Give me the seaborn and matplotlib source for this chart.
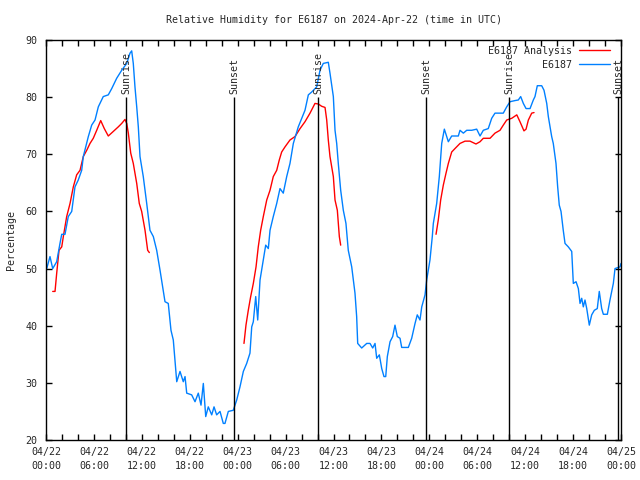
import pandas as pd
import numpy as np
import matplotlib
matplotlib.use('Agg')
import matplotlib.pyplot as plt
import matplotlib.dates as mdates
import seaborn as sns

# ----------------------------------------------------------------------------
# data (hours since 2024-04-22 00:00 UTC, relative humidity %)
# ----------------------------------------------------------------------------
START = pd.Timestamp('2024-04-22 00:00')

obs_hours = [0.09, 0.50, 0.84, 1.34, 1.75, 1.97, 2.38, 2.79, 3.22, 3.63, 4.04, 4.47, 4.67,
             5.30, 5.72, 6.14, 6.55, 7.17, 7.80, 8.23, 8.85, 9.48, 10.11, 10.52, 10.73,
             10.93, 11.14, 11.36, 11.56, 11.77, 12.18, 12.61, 13.02, 13.44, 13.86, 14.28,
             14.90, 15.31, 15.65, 15.94, 16.15, 16.37, 16.78, 17.19, 17.41, 17.62, 18.24,
             18.66, 19.07, 19.41, 19.70, 20.00, 20.32, 20.75, 21.04, 21.37, 21.79, 22.20,
             22.41, 22.83, 23.45, 23.88, 24.29, 24.71, 25.13, 25.54, 25.76, 25.96, 26.26,
             26.51, 26.80, 27.21, 27.51, 27.84, 28.05, 28.46, 28.89, 29.30, 29.71, 30.14,
             30.55, 30.97, 31.59, 32.02, 32.43, 32.85, 33.27, 33.90, 34.31, 34.72, 35.35,
             35.56, 35.98, 36.19, 36.40, 36.60, 36.90, 37.23, 37.56, 37.85, 38.28, 38.48,
             38.69, 38.90, 39.03, 39.53, 40.16, 40.57, 40.91, 41.20, 41.41, 41.74, 42.04,
             42.32, 42.54, 42.74, 43.08, 43.41, 43.70, 43.99, 44.33, 44.54, 45.37, 45.79,
             46.21, 46.49, 46.83, 47.05, 47.46, 47.67, 48.08, 48.37, 48.50, 48.92, 49.25,
             49.55, 49.88, 50.18, 50.38, 50.80, 51.63, 51.84, 52.26, 52.68, 53.31, 53.93,
             54.35, 54.76, 55.38, 55.81, 56.22, 57.26, 57.69, 58.10, 58.73, 59.14, 59.44,
             59.77, 60.11, 60.61, 61.02, 61.23, 61.52, 62.07, 62.36, 62.70, 62.90, 63.32,
             63.52, 63.86, 64.07, 64.27, 64.49, 64.77, 64.99, 65.40, 65.83, 66.03, 66.37,
             66.66, 66.87, 67.08, 67.28, 67.49, 67.71, 68.03, 68.33, 68.66, 69.03, 69.28,
             69.58, 69.79, 70.29, 70.62, 71.04, 71.25, 71.88, 72.00]
obs_rh = [50.0, 52.1, 50.0, 51.2, 54.4, 56.0, 56.0, 59.1, 60.0, 64.3, 65.5, 67.2, 69.6,
          73.1, 75.1, 76.0, 78.3, 80.1, 80.4, 81.5, 83.3, 84.7, 85.9, 87.7, 88.1,
          85.9, 81.8, 78.3, 74.8, 69.6, 66.1, 61.4, 56.7, 55.6, 53.2, 49.7,
          44.2, 43.9, 39.2, 37.5, 34.0, 30.2, 32.0, 30.2, 31.1, 28.2, 27.9,
          26.7, 28.2, 26.1, 29.9, 24.1, 25.8, 24.4, 25.8, 24.4, 25.0, 22.9,
          22.9, 25.0, 25.2, 27.0, 29.3, 32.0, 33.4, 35.2, 39.8, 40.7, 45.1,
          41.0, 48.0, 51.5, 54.1, 53.5, 56.7, 59.1, 61.4, 64.0, 63.2, 66.1,
          68.4, 71.9, 74.8, 76.3, 77.7, 80.4, 80.9, 81.8, 84.7, 85.9, 86.1,
          84.2, 80.1, 74.2, 71.9, 68.4, 63.7, 60.2, 57.9, 53.2, 50.3, 48.0,
          45.7, 41.6, 36.9, 36.1, 36.9, 36.9, 36.1, 36.9, 34.3, 34.9, 32.5,
          31.1, 31.1, 34.6, 37.2, 38.1, 40.1, 38.1, 37.8, 36.2, 36.2, 37.8,
          40.4, 41.9, 41.0, 43.3, 45.4, 48.0, 51.5, 55.6, 57.9, 61.4, 66.1,
          71.9, 74.4, 73.1, 72.2, 73.2, 73.2, 74.2, 73.7, 74.2, 74.2, 74.4,
          73.2, 74.2, 74.5, 76.3, 77.2, 77.2, 78.3, 79.2, 79.4, 79.5, 80.1,
          78.9, 78.0, 78.0, 79.5, 80.1, 82.0, 82.0, 81.2, 78.9, 76.6, 73.1,
          71.9, 68.4, 64.3, 61.1, 60.0, 56.7, 54.4, 53.8, 53.0, 47.4, 47.7,
          46.5, 43.9, 44.8, 43.3, 44.5, 43.0, 40.1, 41.9, 42.7, 43.0, 46.0,
          43.0, 42.0, 42.0, 44.5, 47.4, 50.0, 50.3, 50.9]

# analysis: three separate 12h runs
ana1_hours = [0.84, 1.13, 1.34, 1.63, 1.97, 2.17, 2.59, 3.01, 3.42, 3.84, 4.26, 4.67, 5.10,
              5.51, 5.92, 6.35, 6.85, 7.30, 7.80, 8.35, 9.05, 9.48, 9.89, 10.11, 10.31,
              10.61, 10.93, 11.36, 11.68, 11.98, 12.40, 12.73, 12.94]
ana1_rh = [46.0, 46.0, 49.2, 53.2, 53.8, 55.6, 59.1, 61.4, 64.3, 66.4, 67.2, 69.6, 70.7,
           71.9, 72.8, 74.2, 75.9, 74.5, 73.2, 73.9, 74.8, 75.4, 76.1, 75.4, 73.7,
           70.2, 68.4, 64.9, 61.4, 60.0, 56.7, 53.2, 52.8]
ana2_hours = [24.79, 25.04, 25.33, 25.63, 25.96, 26.30, 26.58, 26.88, 27.21, 27.64, 28.05,
              28.46, 28.89, 29.21, 29.51, 29.93, 30.55, 31.18, 31.81, 32.43, 33.06, 33.68,
              34.10, 34.52, 34.94, 35.15, 35.35, 35.56, 35.98, 36.19, 36.48, 36.73, 36.90]
ana2_rh = [36.9, 40.1, 42.7, 45.1, 47.4, 50.3, 53.8, 56.7, 59.1, 62.0, 63.7,
           66.1, 67.2, 69.0, 70.4, 71.3, 72.5, 73.1, 74.5, 75.7, 77.2, 78.9,
           78.8, 78.4, 78.2, 76.0, 72.5, 69.6, 66.1, 62.0, 60.2, 55.6, 54.1]
ana3_hours = [48.84, 49.12, 49.42, 49.75, 50.09, 50.38, 50.80, 51.21, 51.84, 52.47, 53.09,
              53.84, 54.35, 54.76, 55.60, 56.22, 56.85, 57.26, 57.69, 58.32, 58.95, 59.35,
              59.85, 60.11, 60.40, 60.82, 61.11]
ana3_rh = [56.0, 58.5, 62.0, 64.6, 66.7, 68.4, 70.4, 71.0, 71.9, 72.3, 72.3,
           71.8, 72.2, 72.8, 72.8, 73.7, 74.2, 75.1, 76.0, 76.3, 76.9, 75.7,
           74.1, 74.4, 76.0, 77.2, 77.3]

sunrise_hours = [10.05, 34.05, 58.03]
sunset_hours = [23.58, 47.62, 71.67]

STATION = 'E6187'
FONT = ['DejaVu Sans Mono']
FS = 7.2

# ----------------------------------------------------------------------------
# build long table
# ----------------------------------------------------------------------------
def to_time(hours):
    return START + pd.to_timedelta(np.asarray(hours), unit='h')

frames = [pd.DataFrame({'time': to_time(obs_hours), 'rh': obs_rh,
                        'series': STATION, 'seg': 0})]
for i, (h, v) in enumerate([(ana1_hours, ana1_rh), (ana2_hours, ana2_rh),
                            (ana3_hours, ana3_rh)]):
    frames.append(pd.DataFrame({'time': to_time(h), 'rh': v,
                                'series': f'{STATION} Analysis', 'seg': i + 1}))
df = pd.concat(frames, ignore_index=True)

# ----------------------------------------------------------------------------
# plot
# ----------------------------------------------------------------------------
sns.set_style('ticks')
plt.rcParams['font.family'] = FONT
plt.rcParams['font.size'] = FS

fig = plt.figure(figsize=(6.4, 4.8), dpi=100)
ax = fig.add_axes([46 / 640, 40 / 480, 575 / 640, 400 / 480])

sns.lineplot(data=df, x='time', y='rh', hue='series', units='seg', estimator=None,
             hue_order=[f'{STATION} Analysis', STATION],
             palette={f'{STATION} Analysis': '#ff0000', STATION: '#0080ff'},
             linewidth=1.0, ax=ax)

# sunrise / sunset markers
for h in sunrise_hours:
    t = to_time([h])[0]
    ax.vlines(t, 20, 80, color='black', linewidth=1.0)
    ax.text(t, 80.6, 'Sunrise', rotation=90, ha='center', va='bottom', fontsize=FS)
for h in sunset_hours:
    t = to_time([h])[0]
    ax.vlines(t, 20, 80, color='black', linewidth=1.0)
    ax.text(t, 80.6, 'Sunset', rotation=90, ha='center', va='bottom', fontsize=FS)

ax.set_xlim(START, START + pd.Timedelta(hours=72))
ax.set_ylim(20, 90)
ax.set_yticks(range(20, 91, 10))
ax.xaxis.set_major_locator(mdates.HourLocator(byhour=range(0, 24, 6)))
ax.xaxis.set_minor_locator(mdates.HourLocator(byhour=range(0, 24, 2)))
ax.xaxis.set_major_formatter(mdates.DateFormatter('%m/%d\n%H:%M'))
for lab in ax.get_xticklabels():
    lab.set_linespacing(1.45)

ax.tick_params(which='both', direction='in', top=True, right=True,
               length=4, width=1, labelsize=FS, color='black')
ax.tick_params(axis='x', pad=5)
ax.tick_params(axis='y', pad=6)
for spine in ax.spines.values():
    spine.set_visible(True)
    spine.set_linewidth(1.0)
    spine.set_color('black')

ax.set_xlabel('')
ax.set_ylabel('Percentage', fontsize=FS, labelpad=7)
ax.set_title(f'Relative Humidity for {STATION} on 2024-Apr-22 (time in UTC)',
             fontsize=FS, pad=12)

ax.legend(loc='upper right', bbox_to_anchor=(0.981, 0.985), frameon=False,
          markerfirst=False, fontsize=FS, handlelength=3.1, handletextpad=0.7,
          borderaxespad=0, borderpad=0, labelspacing=0.4)

fig.savefig('out.png', dpi=100)
